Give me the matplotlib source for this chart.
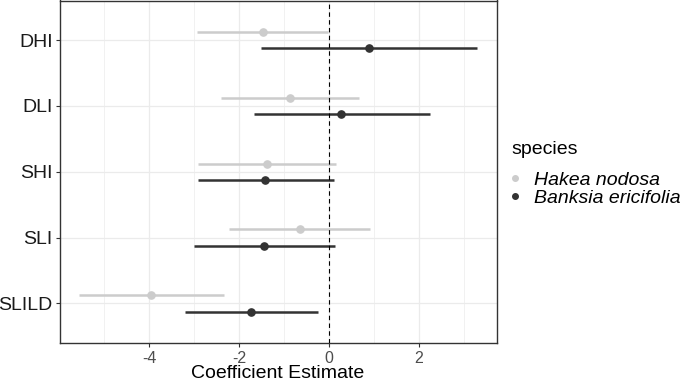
import numpy as np
import matplotlib.pyplot as plt
from matplotlib.ticker import MultipleLocator

plt.rcParams['font.family'] = ['Liberation Sans', 'DejaVu Sans']
plt.rcParams['axes.unicode_minus'] = False

# data
categories = ['DHI', 'DLI', 'SHI', 'SLI', 'SLILD']
species = ['Hakea nodosa', 'Banksia ericifolia']
colors = ['#CCCCCC', '#333333']

hakea_est = [-1.48, -0.875, -1.39, -0.65, -3.96]
hakea_lo = [-2.94, -2.41, -2.91, -2.22, -5.55]
hakea_hi = [-0.02, 0.66, 0.16, 0.92, -2.34]

banksia_est = [0.88, 0.27, -1.42, -1.44, -1.73]
banksia_lo = [-1.51, -1.68, -2.91, -3.01, -3.20]
banksia_hi = [3.29, 2.24, 0.10, 0.13, -0.24]

W, H = 685, 381
fig = plt.figure(figsize=(W / 100, H / 100), dpi=100)
ax = fig.add_axes([59.7 / W, 1 - 343 / H, (496.8 - 59.7) / W, (343 - 0.5) / H])

ypos = np.arange(len(categories))[::-1]
series = [(hakea_est, hakea_lo, hakea_hi), (banksia_est, banksia_lo, banksia_hi)]
offsets = [0.125, -0.125]
for (est, lo, hi), off, c, name in zip(series, offsets, colors, species):
    y = ypos + off
    ax.hlines(y, lo, hi, color=c, lw=1.8, zorder=3)
    ax.plot(est, y, 'o', color=c, ms=5.2, zorder=4, label=name)

ax.axvline(0, color='black', ls=(0, (4, 3)), lw=0.8, zorder=5)

ax.set_xlim(-5.99, 3.73)
ax.set_ylim(-0.6, len(categories) - 1 + 0.6)
ax.xaxis.set_major_locator(MultipleLocator(2))
ax.xaxis.set_minor_locator(MultipleLocator(1))
ax.set_yticks(ypos)
ax.set_yticklabels(categories)

ax.grid(which='major', color='#EBEBEB', lw=0.9, zorder=0)
ax.grid(which='minor', axis='x', color='#EBEBEB', lw=0.5, zorder=0)
ax.set_axisbelow(True)
for s in ax.spines.values():
    s.set_color('#333333')
    s.set_linewidth(1.0)

ax.tick_params(axis='x', which='major', labelsize=11.5, labelcolor='#4D4D4D',
               color='#333333', length=3, pad=3)
ax.tick_params(axis='x', which='minor', length=0)
ax.tick_params(axis='y', labelsize=14, labelcolor='#1A1A1A',
               color='#333333', length=3, pad=2)

fig.text(278 / W, 1 - 378 / H, 'Coefficient Estimate', fontsize=14,
         ha='center', va='baseline')

# legend
fig.text(511.5 / W, 1 - 150 / H, 'species', fontsize=14, va='center', ha='left')
leg = fig.legend(loc='upper left', bbox_to_anchor=(509 / W, 1 - 171 / H),
                 frameon=False, fontsize=14, handlelength=0.6,
                 handletextpad=0.7, labelspacing=0.02, borderaxespad=0,
                 borderpad=0)
for t in leg.get_texts():
    t.set_fontstyle('italic')
for h in leg.legend_handles:
    h.set_markersize(4)

fig.savefig('out.png', dpi=100)
